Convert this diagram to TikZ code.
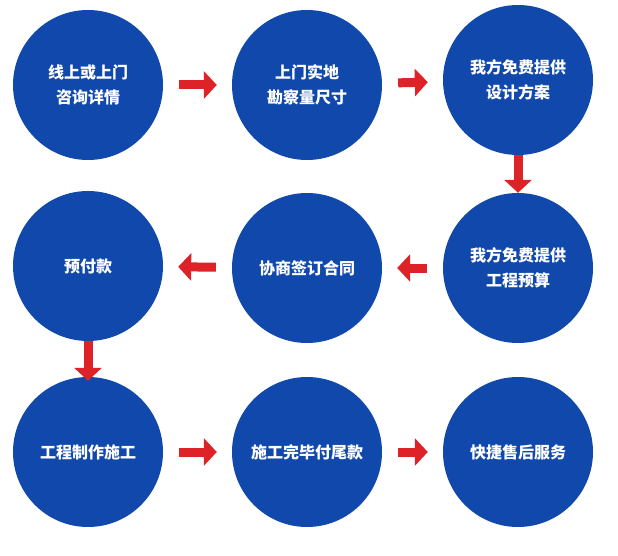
\documentclass[tikz,border=0pt]{standalone}
\usepackage{fontspec}
\newfontfamily\cjk{Noto Sans CJK SC}
\usetikzlibrary{arrows.meta}
\definecolor{stepblue}{RGB}{17,72,171}
\definecolor{steparrow}{RGB}{221,34,40}
\begin{document}
\begin{tikzpicture}[x=1pt,y=-1pt]

      \useasboundingbox (0,0) rectangle (618,556);

      \begin{scope}[every node/.style={circle,fill=stepblue,minimum size=150pt,inner sep=0pt,
          text=white,align=center,font=\cjk\bfseries\fontsize{16}{25}\selectfont}]
        \node (s1) at (88,85)   {线上或上门\\咨询详情};
        \node (s2) at (307,85)  {上门实地\\勘察量尺寸};
        \node (s3) at (518,80)  {我方免费提供\\设计方案};
        \node (s4) at (518,268) {我方免费提供\\工程预算};
        \node (s5) at (307,268) {协商签订合同};
        \node (s6) at (88,266)  {预付款};
        \node (s7) at (88,452)  {工程制作施工};
        \node (s8) at (307,452) {施工完毕付尾款};
        \node (s9) at (518,452) {快捷售后服务};
      \end{scope}

      \begin{scope}[every path/.style={draw=steparrow,line width=9pt,
          -{Triangle[length=13pt,width=27pt]},shorten <=16pt,shorten >=15pt}]
        \path (s1) -- (s2);
        \path (s2) -- (s3);
        \path (s3) edge[shorten <=0pt,shorten >=0pt] (s4);
        \path (s4) -- (s5);
        \path (s5) -- (s6);
        \path (s6) edge[shorten <=0pt,shorten >=-4pt] (s7);
        \path (s7) -- (s8);
        \path (s8) -- (s9);
      \end{scope}

    \end{tikzpicture}
\end{document}
